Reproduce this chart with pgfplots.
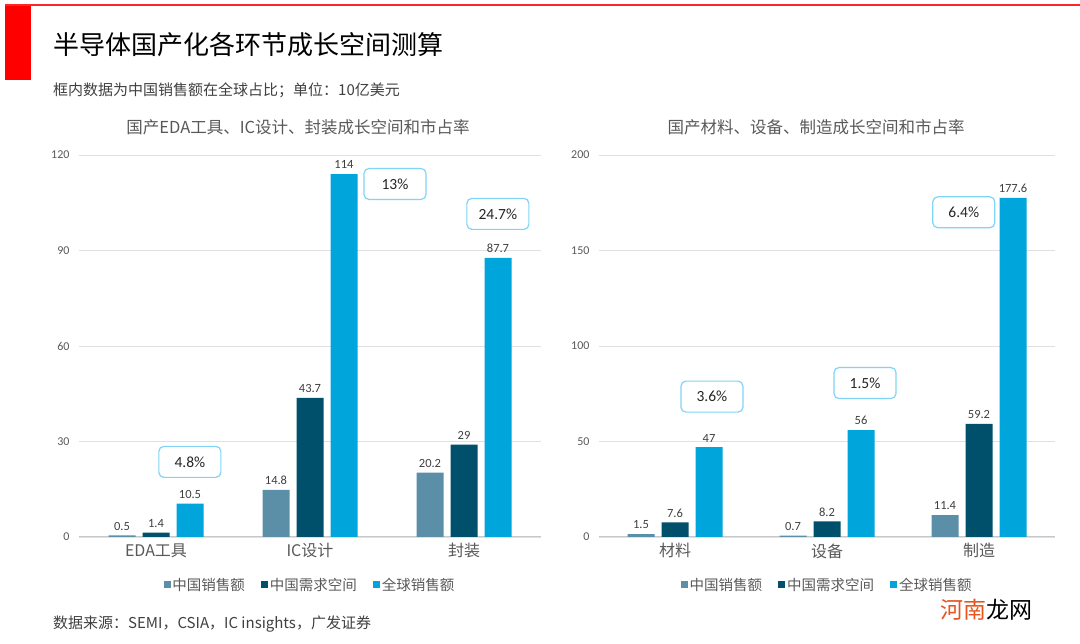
\documentclass[border=0pt]{standalone}
\usepackage{fontspec}
\usepackage{pgfplots}
\pgfplotsset{compat=1.18}
\setmainfont{Noto Sans CJK SC}
\newfontfamily\numf{Carlito}
\definecolor{cA}{HTML}{5B8FA8}
\definecolor{cB}{HTML}{00506B}
\definecolor{cC}{HTML}{00A5DB}
\definecolor{boxc}{HTML}{7FD4F7}
\definecolor{tgray}{HTML}{595959}
\definecolor{lgray}{HTML}{404040}
\definecolor{gridc}{HTML}{E0E0E0}
\definecolor{basec}{HTML}{C8C8C8}
\definecolor{wmor}{HTML}{E8541E}
\tikzset{
  pbox/.style={draw=boxc, line width=1.2pt, rounded corners=5pt, fill=white,
    minimum width=62pt, minimum height=31pt, inner sep=0pt,
    font=\numf\fontsize{15.5}{15.5}\selectfont, text=black!85},
}
\pgfplotsset{
  mybar/.style={
    scale only axis, height=382pt,
    ybar=7pt, bar width=27pt,
    xmin=-0.5, xmax=2.5, ymin=0,
    xtick={0,1,2},
    axis x line*=bottom, axis y line*=left,
    x axis line style={draw=basec, line width=1pt, -},
    y axis line style={draw=none},
    major tick length=0pt,
    ymajorgrids, grid style={draw=gridc, line width=0.9pt},
    /pgf/number format/assume math mode=true,
    yticklabel style={font=\numf\fontsize{12}{12}\selectfont, text=tgray, xshift=-6pt},
    xticklabel style={font=\fontsize{16}{16}\selectfont, text=tgray, yshift=-3pt},
    nodes near coords,
    every node near coord/.append style={font=\numf\fontsize{12.5}{12.5}\selectfont, text=lgray, inner sep=5pt},
    legend columns=3,
    legend style={draw=none, font=\fontsize{14.5}{14.5}\selectfont, text=tgray,
      at={(0.5,-0.126)}, anchor=center,
      /tikz/every even column/.append style={column sep=14pt}},
    legend image code/.code={\fill[##1] (0pt,-3pt) rectangle (7pt,4pt);},
  },
}
\begin{document}
\begin{tikzpicture}
\path[use as bounding box, fill=white] (0pt,0pt) rectangle (1080pt,644pt);
% header decorations
\fill[red!85!white] (5pt,638pt) rectangle (1080pt,639.5pt);
\fill[red] (5pt,564pt) rectangle (31pt,638pt);
\node[anchor=west, inner sep=0pt, font=\fontsize{26}{26}\selectfont, text=black] at (53pt,599pt) {半导体国产化各环节成长空间测算};
\node[anchor=west, inner sep=0pt, font=\fontsize{15}{15}\selectfont, text=lgray] at (53pt,554pt) {框内数据为中国销售额在全球占比；单位：10亿美元};
\node[inner sep=0pt, font=\fontsize{16.5}{16.5}\selectfont, text=tgray] at (298pt,517pt) {国产EDA工具、IC设计、封装成长空间和市占率};
\node[inner sep=0pt, font=\fontsize{16.5}{16.5}\selectfont, text=tgray] at (816pt,517pt) {国产材料、设备、制造成长空间和市占率};
\node[anchor=west, inner sep=0pt, font=\fontsize{15}{15}\selectfont, text=lgray] at (53pt,20pt) {数据来源：SEMI，CSIA，IC insights，广发证券};
\node[anchor=west, inner sep=0pt, font=\fontsize{23}{23}\selectfont] at (940pt,34pt) {\textcolor{wmor}{河南}\textcolor{black}{龙网}};

% left panel
\begin{axis}[mybar, at={(79pt,107pt)}, anchor=south west, width=462pt,
  ymax=120, ytick={0,30,60,90,120},
  xticklabels={EDA工具, IC设计, 封装}]
\addplot[fill=cA, draw=none] coordinates {(0,0.5) (1,14.8) (2,20.2)};
\addplot[fill=cB, draw=none] coordinates {(0,1.4) (1,43.7) (2,29)};
\addplot[fill=cC, draw=none] coordinates {(0,10.5) (1,114) (2,87.7)};
\legend{中国销售额, 中国需求空间, 全球销售额}
\node[pbox] at (axis cs:0.22,23.6) {4.8\%};
\node[pbox] at (axis cs:1.552,110.9) {13\%};
\node[pbox] at (axis cs:2.22,101.5) {24.7\%};
\end{axis}

% right panel
\begin{axis}[mybar, at={(599pt,107pt)}, anchor=south west, width=456pt,
  ymax=200, ytick={0,50,100,150,200},
  xticklabels={材料, 设备, 制造}]
\addplot[fill=cA, draw=none] coordinates {(0,1.5) (1,0.7) (2,11.4)};
\addplot[fill=cB, draw=none] coordinates {(0,7.6) (1,8.2) (2,59.2)};
\addplot[fill=cC, draw=none] coordinates {(0,47) (1,56) (2,177.6)};
\legend{中国销售额, 中国需求空间, 全球销售额}
\node[pbox] at (axis cs:0.243,73.5) {3.6\%};
\node[pbox] at (axis cs:1.25,80.6) {1.5\%};
\node[pbox] at (axis cs:1.90,170) {6.4\%};
\end{axis}
\end{tikzpicture}
\end{document}
